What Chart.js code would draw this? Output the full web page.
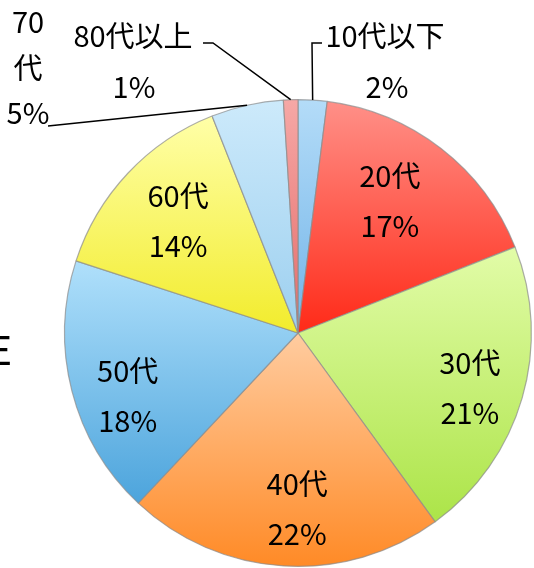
<!DOCTYPE html>
<html>
<head>
<meta charset="utf-8">
<script src="https://cdn.jsdelivr.net/npm/chart.js@4.4.0/dist/chart.umd.min.js"></script>
<style>
body{margin:0;background:#fff;}
</style>
</head>
<body>
<canvas id="pie" width="534" height="568"></canvas>
<script>
var ageLabels = ["10代以下", "20代", "30代", "40代", "50代", "60代", "70代", "80代以上"];
var ageShares = [2, 17, 21, 22, 18, 14, 5, 1];
var topColors = ["#b4dcf8", "#ff9088", "#e2fca8", "#ffcca0", "#b0e0fb", "#ffffa8", "#cdeafb", "#f6a8a6"];
var bottomColors = ["#72b4e8", "#ff2a18", "#ace448", "#ff8a26", "#4ca4dc", "#f2ec2c", "#9ccfef", "#e46c6a"];

// small slices get their labels outside with a leader line
var outsideLabels = {
  "10代以下": {lines: [["10代以下", 385, 36], ["2%", 387, 87]], leader: [[322, 43], [312, 43]]},
  "80代以上": {lines: [["80代以上", 133, 36], ["1%", 134, 87]], leader: [[203, 43], [213, 43]]},
  "70代": {lines: [["70", 28, 22], ["代", 28, 68], ["5%", 28, 113]], leader: [[48, 126]]}
};
// small shifts of the inside labels
var labelNudge = {"20代": [-14, 4], "30代": [6, 7], "40代": [10, 4], "50代": [-3, 20], "60代": [6, 6]};

function sliceFill(context) {
  var chart = context.chart;
  var area = chart.chartArea;
  var i = context.dataIndex;
  if (!area) return bottomColors[i];
  var cx = (area.left + area.right) / 2, cy = (area.top + area.bottom) / 2;
  var r = Math.min(area.right - area.left, area.bottom - area.top) / 2;
  var total = 0, before = 0;
  for (var k = 0; k < ageShares.length; k++) {
    total += ageShares[k];
    if (k < i) before += ageShares[k];
  }
  var a0 = -Math.PI / 2 + 2 * Math.PI * before / total;
  var a1 = a0 + 2 * Math.PI * ageShares[i] / total;
  var ys = [cy, cy + r * Math.sin(a0), cy + r * Math.sin(a1)];
  [-Math.PI / 2, Math.PI / 2, 3 * Math.PI / 2].forEach(function (a) {
    if (a >= a0 && a <= a1) ys.push(cy + r * Math.sin(a));
  });
  var g = chart.ctx.createLinearGradient(0, Math.min.apply(null, ys), 0, Math.max.apply(null, ys));
  g.addColorStop(0, topColors[i]);
  g.addColorStop(1, bottomColors[i]);
  return g;
}

var labelPlugin = {
  id: 'sliceLabels',
  afterDatasetsDraw: function (chart) {
    var ctx = chart.ctx;
    var arcs = chart.getDatasetMeta(0).data;
    ctx.save();
    ctx.font = '29px "Noto Sans CJK JP"';
    ctx.fillStyle = '#000';
    ctx.textAlign = 'center';
    ctx.textBaseline = 'middle';
    arcs.forEach(function (arc, i) {
      var p = arc.getProps(['x', 'y', 'startAngle', 'endAngle', 'outerRadius'], true);
      var mid = (p.startAngle + p.endAngle) / 2;
      var out = outsideLabels[ageLabels[i]];
      if (!out) {
        var r = p.outerRadius * 0.74;
        var n = labelNudge[ageLabels[i]] || [0, 0];
        var lx = p.x + Math.cos(mid) * r + n[0], ly = p.y + Math.sin(mid) * r + n[1];
        ctx.fillText(ageLabels[i], lx, ly - 25);
        ctx.fillText(ageShares[i] + '%', lx, ly + 25);
      } else {
        out.lines.forEach(function (l) { ctx.fillText(l[0], l[1], l[2]); });
        ctx.beginPath();
        ctx.strokeStyle = '#000';
        ctx.lineWidth = 1.5;
        ctx.moveTo(out.leader[0][0], out.leader[0][1]);
        for (var j = 1; j < out.leader.length; j++) ctx.lineTo(out.leader[j][0], out.leader[j][1]);
        ctx.lineTo(p.x + Math.cos(mid) * p.outerRadius, p.y + Math.sin(mid) * p.outerRadius);
        ctx.stroke();
      }
    });
    // cut-off character at the left edge
    ctx.font = '40px "Noto Sans CJK JP"';
    ctx.textAlign = 'right';
    ctx.fillText('E', 12, 350);
    ctx.restore();
  }
};

new Chart(document.getElementById('pie'), {
  type: 'pie',
  data: {
    labels: ageLabels,
    datasets: [{
      data: ageShares,
      backgroundColor: sliceFill,
      borderColor: 'rgba(140,140,140,0.7)',
      borderWidth: 1.2
    }]
  },
  options: {
    responsive: false,
    animation: false,
    layout: {padding: {left: 64, right: 2, top: 99, bottom: 1}},
    plugins: {
      legend: {display: false},
      tooltip: {enabled: false}
    }
  },
  plugins: [labelPlugin]
});
</script>
</body>
</html>
